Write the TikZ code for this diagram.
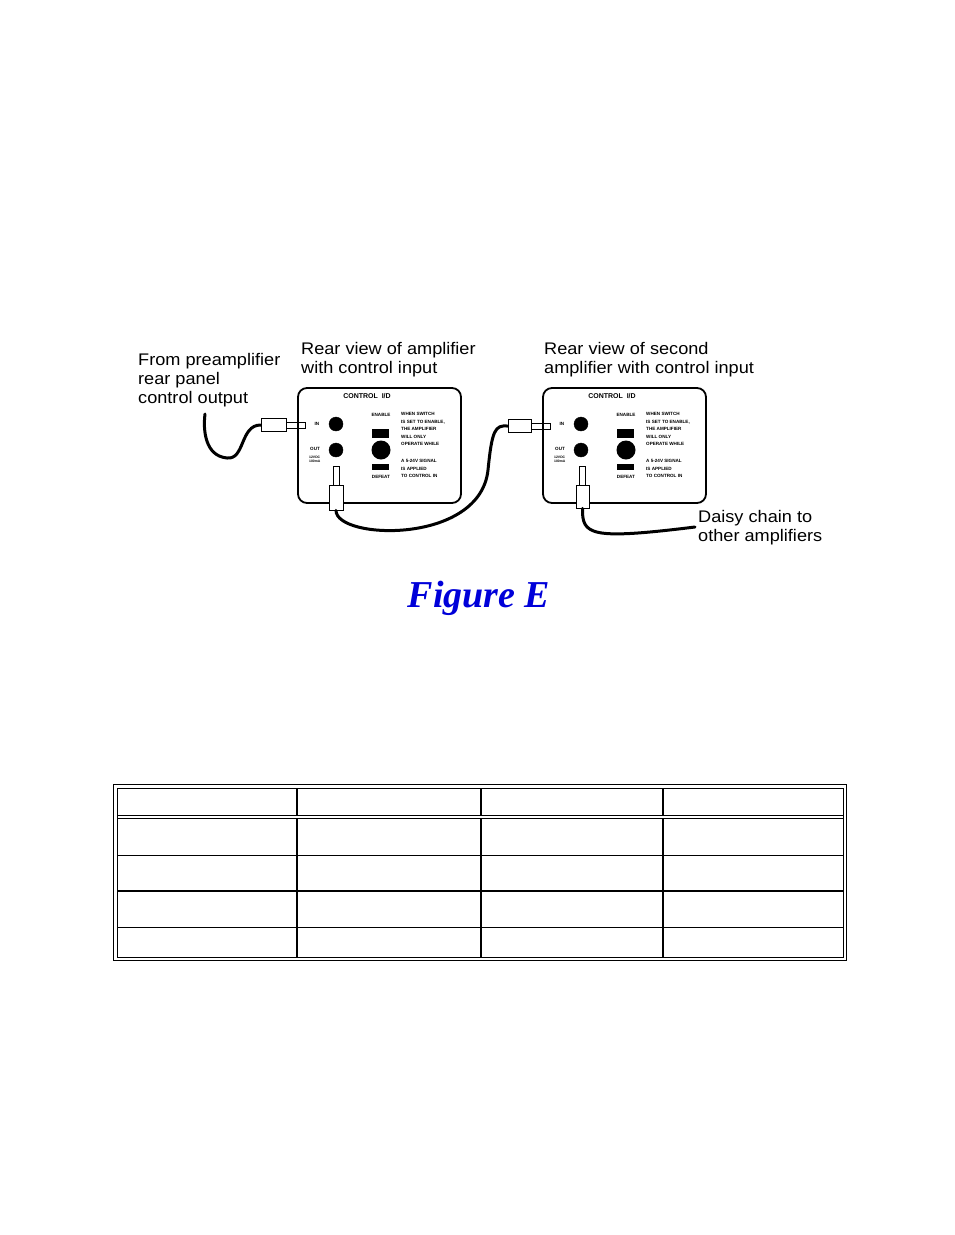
\documentclass[tikz,border=0pt]{standalone}
\usepackage{fontspec}
\setmainfont{Liberation Sans}
\newfontfamily\figfont{Liberation Serif}
\newfontfamily\widefont[FakeStretch=1.08]{Liberation Sans}
\begin{document}
\begin{tikzpicture}[x=1pt,y=-1pt,
  lbl/.style={font=\widefont\fontsize{16.8}{19.2}\selectfont,align=left,anchor=north west,inner sep=0},
  tiny/.style={font=\fontsize{4.6}{7.6}\selectfont\bfseries,align=left,anchor=north west,inner sep=0},
  panel/.style={draw,line width=1.8pt,rounded corners=9pt},
  jack/.style={circle,fill=black,draw,minimum size=14pt,inner sep=0},
  plugbox/.style={draw,fill=white,line width=0.8pt},
  cable/.style={line width=3pt,line cap=round}]
\useasboundingbox (0,0) rectangle (954,1235);
% panels
\foreach \p/\x in {a/298,b/543}{
 \begin{scope}[shift={(\x,0)}]
 \draw[panel] (0,388) rectangle (163,503);
 \node[font=\fontsize{7}{7}\selectfont\bfseries] (\p t) at (69,396) {CONTROL\ \ I/D};
 \node[jack] (\p in) at (38,424) {};
 \node[jack] (\p out) at (38,450) {};
 \node[circle,fill=black,minimum size=19pt,inner sep=0] (\p k) at (83,450) {};
 \fill (74,429) rectangle (91,438);
 \fill (74,464) rectangle (91,470);
 \node[font=\fontsize{4.6}{5}\selectfont\bfseries] at (19,424) {IN};
 \node[tiny] at (12,447) {OUT};
 \node[font=\fontsize{3.4}{4}\selectfont\bfseries,align=left,anchor=north west,inner sep=0] at (11,456) {12VDC\\100mA};
 \node[font=\fontsize{4.6}{5}\selectfont\bfseries] at (83,415) {ENABLE};
 \node[font=\fontsize{4.6}{5}\selectfont\bfseries] at (83,477) {DEFEAT};
 \node[tiny] at (103,412) {WHEN SWITCH\\IS SET TO ENABLE,\\THE AMPLIFIER\\WILL ONLY\\OPERATE WHILE};
 \node[tiny] at (103,459) {A 5-24V SIGNAL\\IS APPLIED\\TO CONTROL IN};
 \end{scope}}
% IN plugs
\draw[line width=0.8pt] (286,422) rectangle (305,428);
\node[plugbox,minimum width=25pt,minimum height=13pt,inner sep=0] (p1) at (273.5,425) {};
\draw[line width=0.8pt] (531,423) rectangle (550,429);
\node[plugbox,minimum width=23pt,minimum height=13pt,inner sep=0] (p2) at (519.5,426) {};
% OUT plugs
\draw[line width=0.8pt] (333,466) rectangle (339,485);
\node[plugbox,minimum width=14pt,minimum height=25pt,inner sep=0] (p3) at (336,497.5) {};
\draw[line width=0.8pt] (579,466) rectangle (585,485);
\node[plugbox,minimum width=13pt,minimum height=23pt,inner sep=0] (p4) at (582.5,496.5) {};
% cables
\coordinate (c1) at (205,414);
\draw[cable] (p1.west) .. controls (240,425) and (245,460) .. (227,458) .. controls (205,456) and (203,430) .. (c1);
\draw[cable] (p3.south) .. controls (336,540) and (480,545) .. (488,470) .. controls (492,430) and (495,425) .. (p2.west);
\coordinate (c2) at (695,527);
\draw[cable] (p4.south) .. controls (582,535) and (590,540) .. (c2);
% labels
\node[lbl] (l1) at (138,353) {From preamplifier\\rear panel\\control output};
\node[lbl] (l2) at (301,342) {Rear view of amplifier\\with control input};
\node[lbl] (l3) at (544,342) {Rear view of second\\amplifier with control input};
\node[lbl] (l4) at (698,510) {Daisy chain to\\other amplifiers};
\node[font=\figfont\fontsize{38}{38}\selectfont\bfseries\itshape,text=blue!85!black] (fig) at (479,598) {Figure E};
% table
\draw[line width=0.8pt] (113,784) rectangle (846,960);
\draw[line width=0.8pt] (117,788) rectangle (843,957);
\draw[line width=0.8pt] (117,815) -- (843,815);
\draw[line width=0.8pt] (117,818) -- (843,818);
\draw[line width=0.8pt] (117,855) -- (843,855);
\draw[line width=1.6pt] (117,891) -- (843,891);
\draw[line width=0.8pt] (117,927) -- (843,927);
\foreach \x in {297,481,663}{
 \draw[line width=1.3pt] (\x,788) -- (\x,815);
 \draw[line width=1.3pt] (\x,818) -- (\x,957);}
\end{tikzpicture}
\end{document}
